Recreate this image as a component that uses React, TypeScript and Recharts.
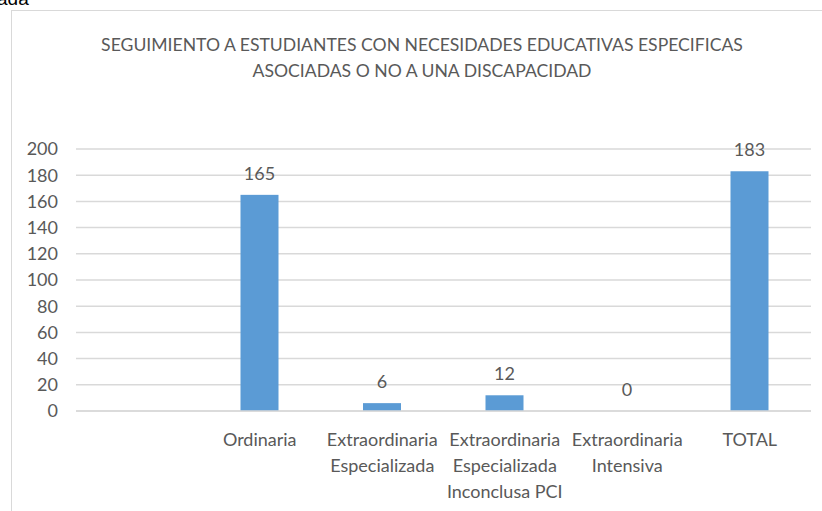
import React from "react";
import { BarChart, Bar, XAxis, YAxis, CartesianGrid } from "recharts";

const categories: string[] = [
  "",
  "Ordinaria",
  "Extraordinaria|Especializada",
  "Extraordinaria|Especializada|Inconclusa PCI",
  "Extraordinaria|Intensiva",
  "TOTAL",
];
const values: (number | null)[] = [null, 165, 6, 12, 0, 183];
const yTicks: number[] = [0, 20, 40, 60, 80, 100, 120, 140, 160, 180, 200];
const titleLines: string[] = [
  "SEGUIMIENTO A ESTUDIANTES CON NECESIDADES EDUCATIVAS ESPECIFICAS",
  "ASOCIADAS O NO A UNA DISCAPACIDAD",
];

const data = categories.map((c, i) => ({ name: c, value: values[i] }));

const FONT = "Lato, 'Open Sans', sans-serif";
const GREY = "#595959";

const CatTick = (props: any) => {
  const { x, y, payload } = props;
  const lines = String(payload.value).split("|").filter((s) => s.length > 0);
  return (
    <g>
      {lines.map((l, i) => (
        <text
          key={i}
          x={x}
          y={y + i * 26}
          textAnchor="middle"
          dominantBaseline="central"
          fill={GREY}
          fontSize={18}
          fontFamily={FONT}
        >
          {l}
        </text>
      ))}
    </g>
  );
};

const BarWithLabel = (props: any) => {
  const { x, y, width, height, value, fill } = props;
  const v = Array.isArray(value) ? value[1] - value[0] : value;
  if (v === null || v === undefined || Number.isNaN(v)) return null;
  return (
    <g>
      {height > 0 && <rect x={x} y={y} width={width} height={height} fill={fill} />}
      <text
        x={x + width / 2}
        y={y - 22}
        textAnchor="middle"
        dominantBaseline="central"
        fill={GREY}
        fontSize={18}
        fontFamily={FONT}
      >
        {v}
      </text>
    </g>
  );
};

export default function App() {
  return (
    <div
      style={{
        position: "absolute",
        left: 0,
        top: 0,
        width: 822,
        height: 511,
        overflow: "hidden",
        background: "#fff",
      }}
    >
      <div
        style={{
          position: "absolute",
          left: -3,
          top: -12,
          fontFamily: "'Liberation Sans', Arial, sans-serif",
          fontSize: 19,
          lineHeight: "22px",
          color: "#000",
        }}
      >
        ada
      </div>
      <div
        style={{
          position: "absolute",
          left: 11,
          top: 10,
          width: 830,
          height: 520,
          border: "1px solid #d9d9d9",
          boxSizing: "border-box",
        }}
      />
      <div style={{ position: "absolute", left: 0, top: 0 }}>
        <BarChart
          width={822}
          height={511}
          data={data}
          margin={{ top: 149, right: 11, bottom: 70, left: 0 }}
        >
          <text
            x={422}
            y={44}
            textAnchor="middle"
            dominantBaseline="central"
            fill={GREY}
            fontSize={17.6}
            fontFamily={FONT}
          >
            {titleLines[0]}
          </text>
          <text
            x={422}
            y={70}
            textAnchor="middle"
            dominantBaseline="central"
            fill={GREY}
            fontSize={17.6}
            fontFamily={FONT}
          >
            {titleLines[1]}
          </text>
          <CartesianGrid vertical={false} stroke="#d9d9d9" strokeWidth={1.5} />
          <XAxis
            dataKey="name"
            height={30}
            axisLine={{ stroke: "#d9d9d9", strokeWidth: 1.5 }}
            tickLine={false}
            tickSize={0}
            tickMargin={28}
            interval={0}
            tick={<CatTick />}
          />
          <YAxis
            domain={[0, 200]}
            ticks={yTicks}
            width={76}
            axisLine={false}
            tickLine={false}
            tickSize={0}
            tickMargin={18}
            tick={{ fill: GREY, fontSize: 18, fontFamily: FONT }}
            interval={0}
          />
          <Bar
            dataKey="value"
            fill="#5b9bd5"
            barSize={38}
            isAnimationActive={false}
            shape={<BarWithLabel />}
          />
        </BarChart>
      </div>
    </div>
  );
}
